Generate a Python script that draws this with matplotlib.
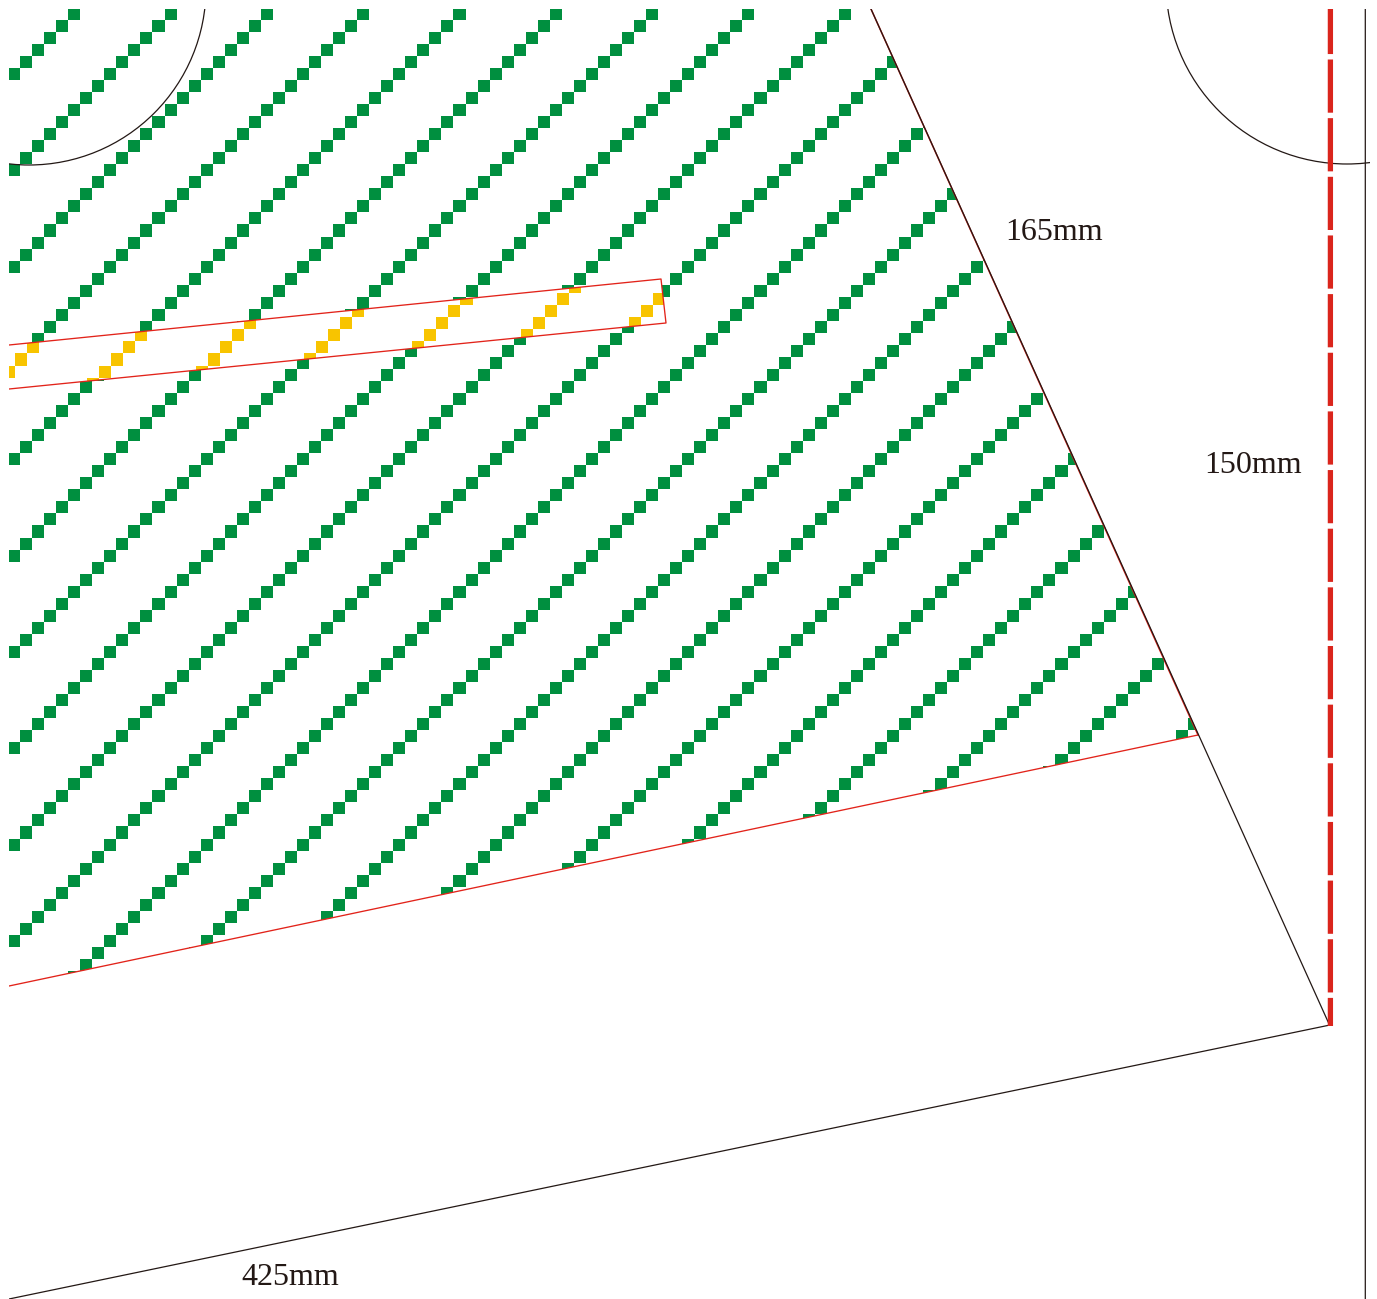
import numpy as np
import matplotlib
matplotlib.use('Agg')
import matplotlib.pyplot as plt
from matplotlib.patches import Polygon, Rectangle, Circle
from matplotlib.collections import PatchCollection

W, H = 1377, 1299
LEFT, TOP = 9, 9

# outline of the piece, in picture pixels
side_x = [871, 1329.5]
side_y = [9, 1025]
base_x = [1330, 9]
base_y = [1025, 1299]
rail_x = [1365.3, 1365.3]
rail_y = [9, 1299]
hem_x = [9, 1198]
hem_y = [986, 735]
# red runs under the black side down to the hem
hem_side_x = [871, 1198]
hem_side_y = [9, 735]

# hatched area and the strip
hatch_x = [9, 871, 1198, 9]
hatch_y = [9, 9, 735, 986]
strip_x = [9, 661, 666, 9]
strip_y = [345, 279, 323, 389]

# corner radii: centre x, centre y, radius
arc_left = [29, -12, 177]
arc_right = [1347, -17, 181]

# dashed red line
dash_x = [1330.4, 1330.4]
dash_y = [0.85, 1026]

# diagonals of squares
green_rows = list(range(0, 25))
yellow_rows = list(range(0, 8))
pitch = 12.04

labels = ['165mm', '150mm', '425mm']
label_x = [1005.5, 1204.5, 241.5]
label_y = [240, 473, 1285]

BLACK = '#231815'
GREEN = '#008F3F'
YELLOW = '#F8C400'
RED = '#E2231A'
DASH_RED = '#DA251C'


def squares(rows, x0, y0):
    out = []
    for m in rows:
        for i in range(-1, 112):
            x = x0 + pitch * i
            y = y0 + pitch * (8 * m - i)
            if y > -20 and y < 1100:
                out.append(Rectangle((x, y - pitch), pitch, pitch))
    return out


plt.rcParams['lines.scale_dashes'] = False
fig = plt.figure(figsize=(W / 100, H / 100), dpi=100, facecolor='white')
ax = fig.add_axes([LEFT / W, 0, (W - LEFT) / W, (H - TOP) / H])
ax.set_xlim(LEFT, W)
ax.set_ylim(H, TOP)
ax.axis('off')

hatch_clip = Polygon(np.column_stack([hatch_x, hatch_y]), transform=ax.transData)
green = PatchCollection(squares(green_rows, 8, 80), facecolor=GREEN, edgecolor='none', zorder=1)
ax.add_collection(green)
green.set_clip_path(hatch_clip)

strip = Polygon(np.column_stack([strip_x, strip_y]), closed=True, facecolor='white', edgecolor='none', zorder=2)
ax.add_patch(strip)
yellow = PatchCollection(squares(yellow_rows, 15, 365.5), facecolor=YELLOW, edgecolor='none', zorder=3)
ax.add_collection(yellow)
yellow.set_clip_path(strip)
ax.plot(strip_x, strip_y, color=RED, lw=0.95, zorder=4, snap=False)

ax.plot(hem_x, hem_y, color=RED, lw=0.95, zorder=4, snap=False)
ax.plot(hem_side_x, hem_side_y, color=RED, lw=1.1, zorder=4, snap=False)
for xs, ys in [(side_x, side_y), (base_x, base_y), (rail_x, rail_y)]:
    ax.plot(xs, ys, color=BLACK, lw=0.9, zorder=5, snap=False)

arc_clip = Rectangle((LEFT, TOP), 1370 - LEFT, H - TOP, transform=ax.transData)
for cx, cy, r in [arc_left, arc_right]:
    c = Circle((cx, cy), r, fill=False, edgecolor=BLACK, linewidth=0.9, zorder=5)
    ax.add_patch(c)
    c.set_clip_path(arc_clip)

ax.plot(dash_x, dash_y, color=DASH_RED, lw=3.8, dash_capstyle='butt',
        linestyle=(0, (53.2 * 0.72, 5.45 * 0.72)), zorder=6, snap=False)

for s, x, y in zip(labels, label_x, label_y):
    ax.text(x, y, s, fontsize=23, family='Liberation Serif', color=BLACK, ha='left', va='baseline', zorder=7)

fig.savefig('out.png', dpi=100)
